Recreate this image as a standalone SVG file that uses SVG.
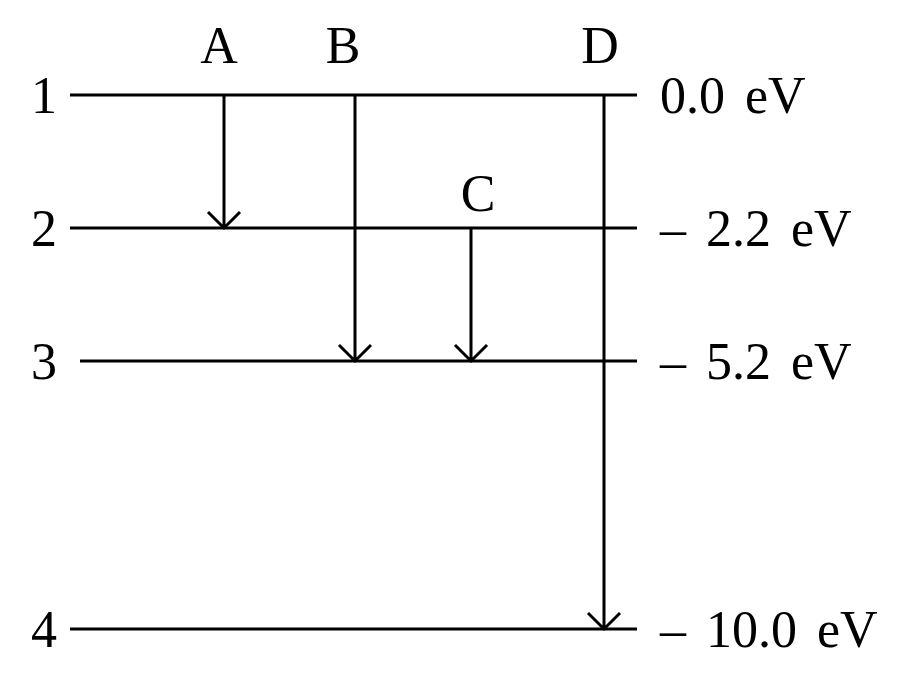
<svg xmlns="http://www.w3.org/2000/svg" width="900" height="686" viewBox="0 0 900 686">
<style>
.l{stroke:#000;stroke-width:3;fill:none}
.a{stroke:#000;stroke-width:3;fill:none}
text{font-family:"Liberation Serif",serif;font-size:52px;fill:#000}
.e{word-spacing:7px}
.m{text-anchor:middle}
</style>
<rect width="900" height="686" fill="#fff"/>
<g id="level1"><line class="l" x1="70" y1="95" x2="637" y2="95"/><text x="44" y="113" class="m">1</text><text x="660" y="113" class="e">0.0 eV</text></g>
<g id="level2"><line class="l" x1="70" y1="228" x2="637" y2="228"/><text x="44" y="246" class="m">2</text><text x="660" y="246" class="e">– 2.2 eV</text></g>
<g id="level3"><line class="l" x1="80" y1="361" x2="637" y2="361"/><text x="44" y="379" class="m">3</text><text x="660" y="379" class="e">– 5.2 eV</text></g>
<g id="level4"><line class="l" x1="70" y1="629" x2="637" y2="629"/><text x="44" y="647" class="m">4</text><text x="660" y="647" class="e">– 10.0 eV</text></g>
<g id="labels"><text x="219" y="63" class="m">A</text><text x="343" y="63" class="m">B</text><text x="478" y="211" class="m">C</text><text x="600" y="63" class="m">D</text></g>
<g id="connectors">
<path class="a" d="M224,95 V228 M208,212 L224,228 L240,212"/>
<path class="a" d="M355,95 V361 M339,345 L355,361 L371,345"/>
<path class="a" d="M471,228 V361 M455,345 L471,361 L487,345"/>
<path class="a" d="M604,95 V629 M588,613 L604,629 L620,613"/>
</g>
</svg>
